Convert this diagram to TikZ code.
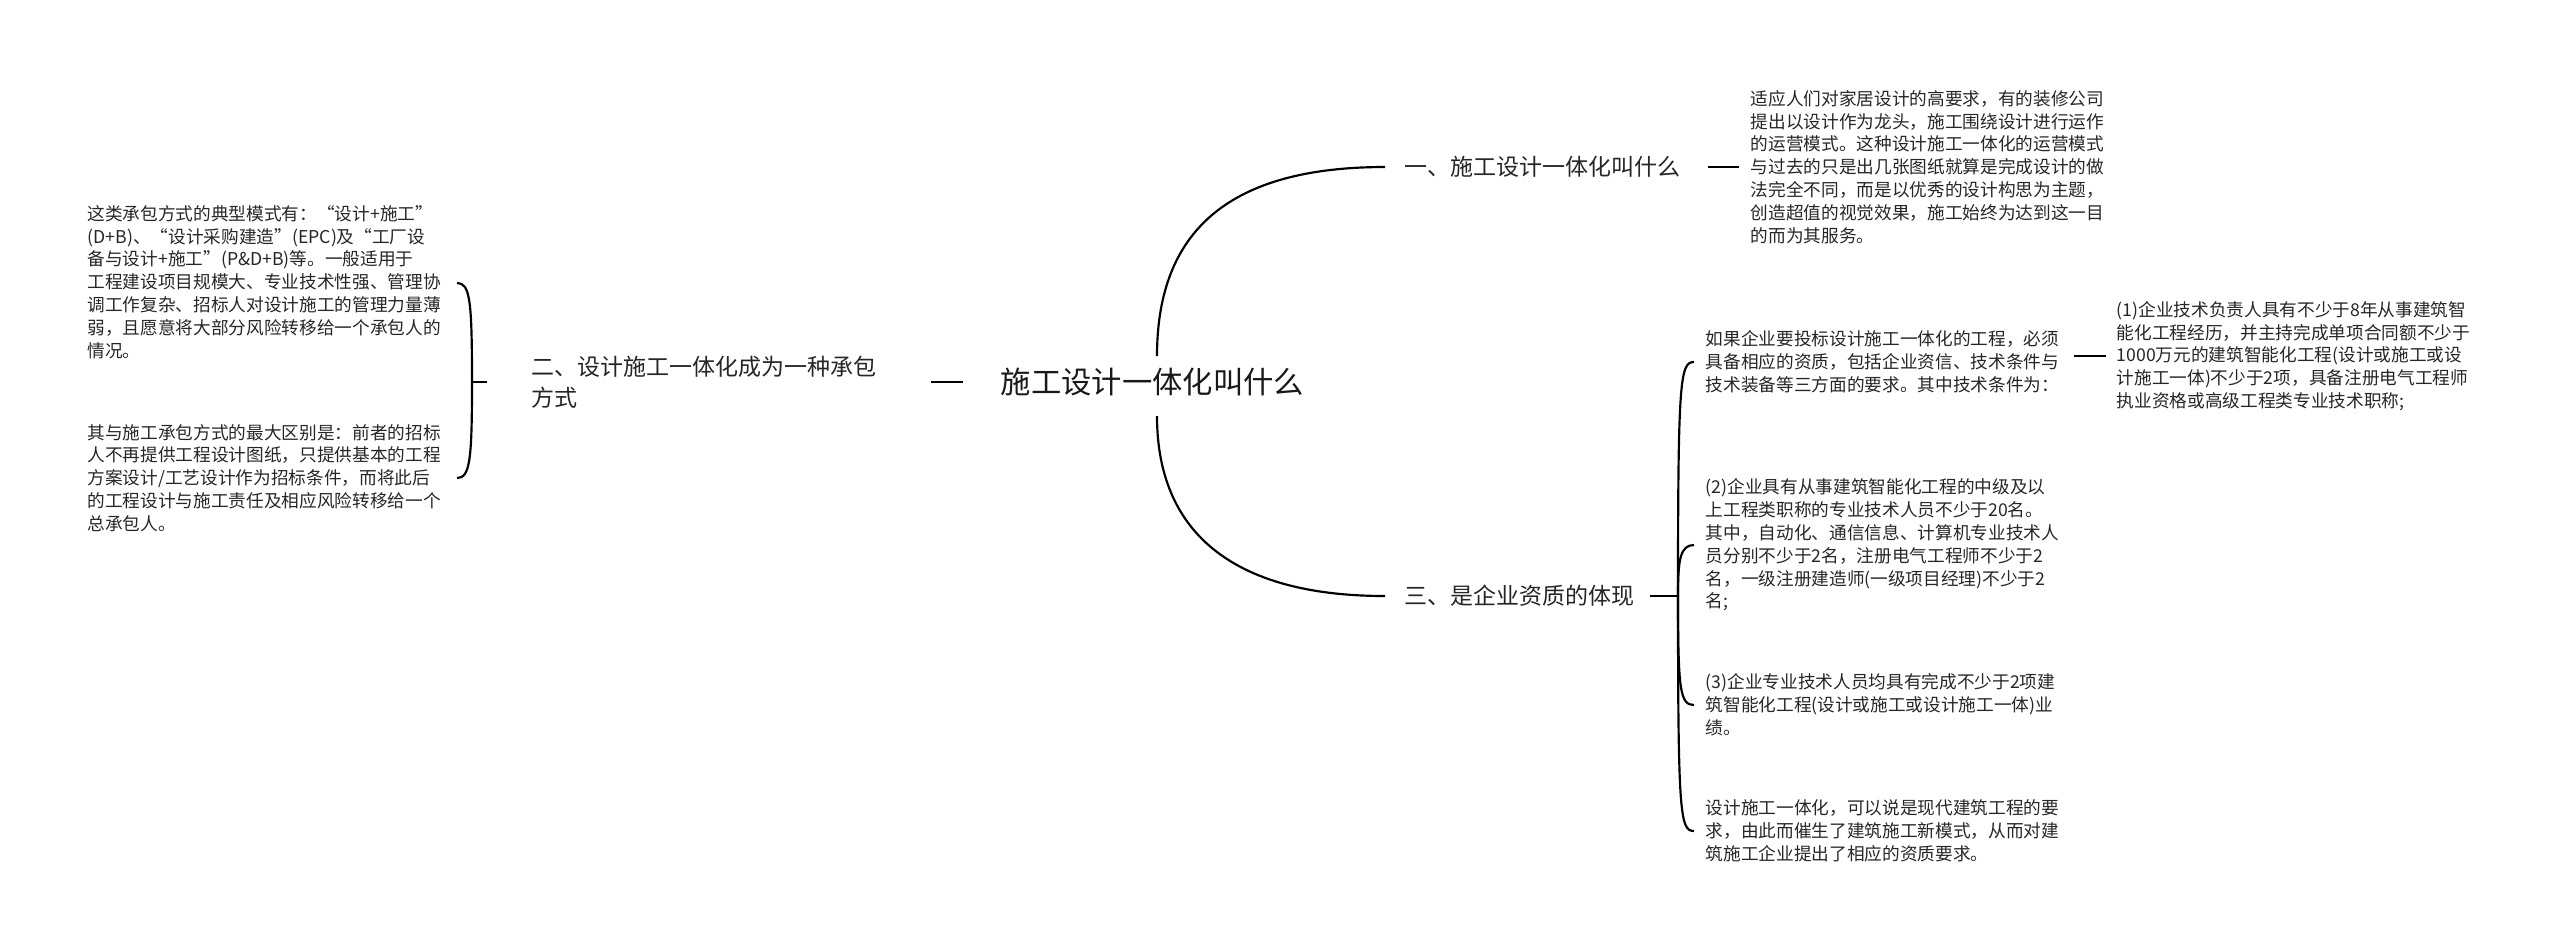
\documentclass[tikz,border=0pt]{standalone}
\usepackage{fontspec}
\setmainfont{Noto Sans CJK SC}
\begin{document}
\begin{tikzpicture}[x=0.3pt,y=-0.3pt,
  small/.style={font=\fontsize{5.3}{6.85}\selectfont,align=left,anchor=west,inner sep=0pt,text=black!85},
  mid/.style={font=\fontsize{6.9}{9.2}\selectfont,align=left,anchor=west,inner sep=0pt,text=black!85},
  big/.style={font=\fontsize{9.1}{11}\selectfont,anchor=west,inner sep=0pt,text=black!90},
  ln/.style={line width=0.65pt,black}]
\useasboundingbox (0,0) rectangle (2560,951);
\node[big] (c) at (1000,382) {施工设计一体化叫什么};
\coordinate (ct) at (1157,356);
\coordinate (cb) at (1157,416);
% left
\node[mid] (l) at (531,382) {二、设计施工一体化成为一种承包\\方式};
\draw[ln] (931,382) -- (963,382);
\coordinate (lb) at (472,382);
\draw[ln] (487,382) -- (lb);
\node[small] (l1) at (87,282) {这类承包方式的典型模式有：“设计+施工”\\(D+B)、“设计采购建造”(EPC)及“工厂设\\备与设计+施工”(P\&D+B)等。一般适用于\\工程建设项目规模大、专业技术性强、管理协\\调工作复杂、招标人对设计施工的管理力量薄\\弱，且愿意将大部分风险转移给一个承包人的\\情况。};
\node[small] (l2) at (87,478) {其与施工承包方式的最大区别是：前者的招标\\人不再提供工程设计图纸，只提供基本的工程\\方案设计/工艺设计作为招标条件，而将此后\\的工程设计与施工责任及相应风险转移给一个\\总承包人。};
\draw[ln] (lb) .. controls (472,300) and (470,283) .. (457,283);
\draw[ln] (lb) .. controls (472,460) and (470,478) .. (457,478);
% right top
\node[mid] (r1) at (1404,167) {一、施工设计一体化叫什么};
\draw[ln] (ct) .. controls (1157,230) and (1230,167) .. (1385,167);
\draw[ln] (1708,167) -- (1739,167);
\node[small] (r1a) at (1750,167) {适应人们对家居设计的高要求，有的装修公司\\提出以设计作为龙头，施工围绕设计进行运作\\的运营模式。这种设计施工一体化的运营模式\\与过去的只是出几张图纸就算是完成设计的做\\法完全不同，而是以优秀的设计构思为主题，\\创造超值的视觉效果，施工始终为达到这一目\\的而为其服务。};
% right bottom
\node[mid] (r3) at (1404,596) {三、是企业资质的体现};
\draw[ln] (cb) .. controls (1157,530) and (1230,596) .. (1385,596);
\coordinate (rb) at (1678,596);
\draw[ln] (1650,596) -- (rb);
\node[small] (a) at (1705,362) {如果企业要投标设计施工一体化的工程，必须\\具备相应的资质，包括企业资信、技术条件与\\技术装备等三方面的要求。其中技术条件为：};
\node[small] (b) at (1705,545) {(2)企业具有从事建筑智能化工程的中级及以\\上工程类职称的专业技术人员不少于20名。\\其中，自动化、通信信息、计算机专业技术人\\员分别不少于2名，注册电气工程师不少于2\\名，一级注册建造师(一级项目经理)不少于2\\名;};
\node[small] (d) at (1705,705) {(3)企业专业技术人员均具有完成不少于2项建\\筑智能化工程(设计或施工或设计施工一体)业\\绩。};
\node[small] (e) at (1705,831) {设计施工一体化，可以说是现代建筑工程的要\\求，由此而催生了建筑施工新模式，从而对建\\筑施工企业提出了相应的资质要求。};
\draw[ln] (rb) .. controls (1678,380) and (1680,362) .. (1694,362);
\draw[ln] (rb) .. controls (1678,560) and (1680,545) .. (1694,545);
\draw[ln] (rb) .. controls (1678,690) and (1680,705) .. (1694,705);
\draw[ln] (rb) .. controls (1678,815) and (1680,831) .. (1694,831);
\draw[ln] (2074,356) -- (2106,356);
\node[small] (a1) at (2116,356) {(1)企业技术负责人具有不少于8年从事建筑智\\能化工程经历，并主持完成单项合同额不少于\\1000万元的建筑智能化工程(设计或施工或设\\计施工一体)不少于2项，具备注册电气工程师\\执业资格或高级工程类专业技术职称;};
\end{tikzpicture}
\end{document}
